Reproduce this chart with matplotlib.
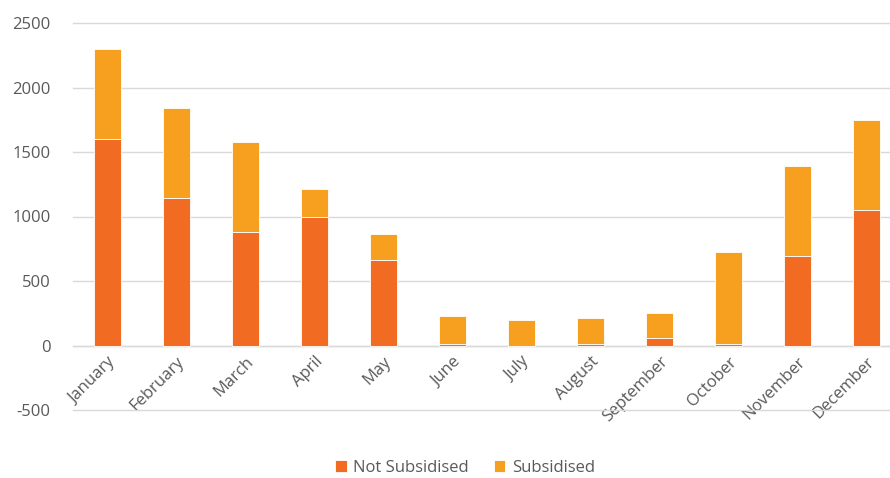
import matplotlib.pyplot as plt
import numpy as np

months = ["January", "February", "March", "April", "May", "June",
          "July", "August", "September", "October", "November", "December"]
not_subsidised = [1600, 1140, 880, 1000, 660, 15, -10, 15, 55, 15, 690, 1050]
subsidised = [700, 700, 700, 210, 205, 215, 195, 200, 195, 710, 705, 700]

c_ns = "#F26B23"
c_s = "#F7A01F"
grey = "#595959"

plt.rcParams['font.family'] = ['Open Sans', 'DejaVu Sans']
plt.rcParams['axes.unicode_minus'] = False

fig = plt.figure(figsize=(8.9, 4.78), dpi=100)
ax = fig.add_axes([73 / 890, 68 / 478, 817 / 890, 387 / 478])

x = np.arange(len(months))
ns = np.array(not_subsidised)
base = np.where(ns > 0, ns, 0)  # negatives stack downward on their own
ax.bar(x, ns, width=0.39, color=c_ns, edgecolor="white", linewidth=0.6,
       label="Not Subsidised", zorder=3)
ax.bar(x, subsidised, width=0.39, bottom=base, color=c_s, edgecolor="white",
       linewidth=0.6, label="Subsidised", zorder=3)

ax.set_ylim(-500, 2500)
ax.set_yticks(range(-500, 2501, 500))
ax.set_xlim(-0.5, 11.34)
ax.yaxis.grid(True, color="#D9D9D9", linewidth=1, zorder=0)
for gl in ax.get_ygridlines():
    gl.set_clip_on(False)
for s in ["top", "right", "left"]:
    ax.spines[s].set_visible(False)
ax.spines["bottom"].set_position(("data", 0))
ax.spines["bottom"].set_color("#D9D9D9")
ax.spines["bottom"].set_linewidth(1)

ax.set_xticks(x)
ax.set_xticklabels(months, rotation=45, ha="right", rotation_mode="anchor")
ax.tick_params(axis="x", length=0, pad=6, labelsize=12, labelcolor=grey)
ax.tick_params(axis="y", length=0, pad=16, labelsize=12, labelcolor=grey)

fig.legend(loc="center", bbox_to_anchor=(465 / 890, 10 / 478), ncol=2,
           frameon=False, fontsize=12, labelcolor=grey, handlelength=0.7,
           handleheight=0.7, columnspacing=1.5, handletextpad=0.4)

fig.savefig("out.png", dpi=100)
